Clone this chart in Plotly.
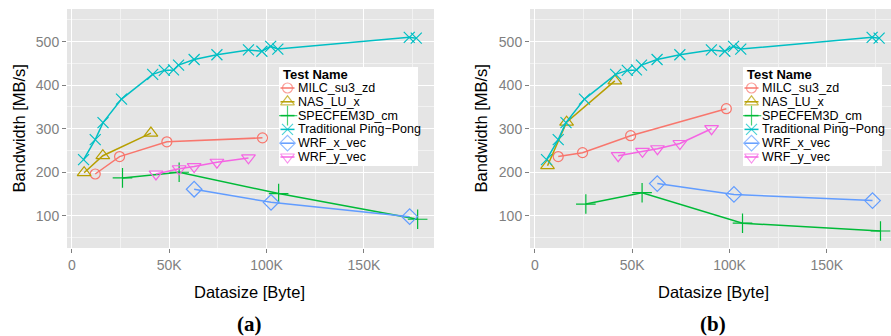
import plotly.graph_objects as go

# ---------------- data ----------------
series_names = ["MILC_su3_zd", "NAS_LU_x", "SPECFEM3D_cm", "Traditional Ping\u2212Pong", "WRF_x_vec", "WRF_y_vec"]
colors = ["#F8766D", "#B79F00", "#00BA38", "#00BFC4", "#619CFF", "#F564E3"]
symbols = ["circle-open", "triangle-up-open", "cross-thin-open", "x-thin-open", "diamond-open", "triangle-down-open"]
msizes = [10, 12, 14, 11, 12, 12]

pingpong_x = [6000, 12000, 16000, 25500, 41500, 47500, 52200, 54800, 62800, 74500, 90700, 97600, 102100, 105800, 173300, 176900]
pingpong_y = [229, 275, 314, 368, 425, 434, 435, 446, 459, 470, 481, 478, 489, 483, 510, 508]

# panel (a)
a_milc_x = [12000, 24500, 48800, 97900]
a_milc_y = [196, 236, 270, 279]
a_nas_x = [6300, 15900, 40600]
a_nas_y = [199, 238, 290]
a_spec_x = [26000, 55100, 106200, 177600]
a_spec_y = [187, 200, 151, 92]
a_wrfx_x = [62800, 102300, 173500]
a_wrfx_y = [161, 131, 98]
a_wrfy_x = [43200, 55100, 62800, 74500, 90700]
a_wrfy_y = [196, 208, 213, 223, 233]

# panel (b)
b_milc_x = [12000, 24500, 49200, 98400]
b_milc_y = [236, 245, 284, 346]
b_nas_x = [6500, 16300, 41100]
b_nas_y = [215, 315, 410]
b_spec_x = [26200, 55100, 106700, 177600]
b_spec_y = [127, 153, 83, 65]
b_wrfx_x = [62900, 102300, 173500]
b_wrfx_y = [174, 149, 135]
b_wrfy_x = [42800, 55300, 63000, 74500, 90800]
b_wrfy_y = [238, 248, 254, 266, 300]

x_tickvals = [0, 50000, 100000, 150000]
x_ticktext = ["0", "50K", "100K", "150K"]
y_tickvals = [100, 200, 300, 400, 500]
legend_title = "Test Name"

panel_a = [(a_milc_x, a_milc_y), (a_nas_x, a_nas_y), (a_spec_x, a_spec_y),
           (pingpong_x, pingpong_y), (a_wrfx_x, a_wrfx_y), (a_wrfy_x, a_wrfy_y)]
panel_b = [(b_milc_x, b_milc_y), (b_nas_x, b_nas_y), (b_spec_x, b_spec_y),
           (pingpong_x, pingpong_y), (b_wrfx_x, b_wrfx_y), (b_wrfy_x, b_wrfy_y)]

# ---------------- figure ----------------
fig = go.Figure()
W, H = 891, 336
FONT = "Liberation Sans, Arial, Helvetica"

for panel, xa, ya in [(panel_a, "x", "y"), (panel_b, "x2", "y2")]:
    for i, (xs, ys) in enumerate(panel):
        fig.add_trace(go.Scatter(
            x=xs, y=ys, mode="lines+markers", name=series_names[i],
            xaxis=xa, yaxis=ya, showlegend=False,
            line=dict(color=colors[i], width=1.5),
            marker=dict(symbol=symbols[i], size=msizes[i], color=colors[i],
                        line=dict(color=colors[i], width=1.2)),
        ))

# ---- legend boxes (drawn on their own small axes, pixel-sized units) ----
LEG_W, LEG_H = 139, 99
legend_left = [279, 743]
legend_top = 67
ann = []
for k, lx in enumerate(legend_left):
    xa, ya = "x%d" % (k + 3), "y%d" % (k + 3)
    # white frame
    fig.add_trace(go.Scatter(x=[0, LEG_W, LEG_W, 0, 0], y=[0, 0, LEG_H, LEG_H, 0],
                             mode="lines", fill="toself", fillcolor="white",
                             line=dict(width=0, color="white"), hoverinfo="skip",
                             xaxis=xa, yaxis=ya, showlegend=False))
    for i, nm in enumerate(series_names):
        yy = 21 + 13.8 * i
        fig.add_trace(go.Scatter(
            x=[1.5, 8.5, 15.5], y=[yy, yy, yy], mode="lines+markers",
            xaxis=xa, yaxis=ya, showlegend=False, hoverinfo="skip",
            line=dict(color=colors[i], width=1.5),
            marker=dict(symbol=symbols[i], size=[0, msizes[i], 0], color=colors[i],
                        line=dict(color=colors[i], width=1.2)),
        ))
        ann.append(dict(text=nm, x=17, y=yy, xref=xa, yref=ya, showarrow=False,
                        xanchor="left", yanchor="middle",
                        font=dict(family=FONT, size=12.5, color="black")))
    ann.append(dict(text="<b>" + legend_title + "</b>", x=2.2, y=7.5, xref=xa, yref=ya,
                    showarrow=False, xanchor="left", yanchor="middle",
                    font=dict(family=FONT, size=13, color="black")))

axis_common_x = dict(
    range=[-2500, 186000], tickvals=x_tickvals, ticktext=x_ticktext,
    showgrid=True, gridcolor="white", gridwidth=1.2, zeroline=False,
    ticks="outside", ticklen=4, tickcolor="#7F7F7F", tickwidth=1,
    tickfont=dict(family=FONT, size=14, color="#7F7F7F"),
    minor=dict(tickvals=[25000, 75000, 125000, 175000], showgrid=True,
               gridcolor="#F2F2F2", gridwidth=0.6, ticks=""),
    showline=False,
)
axis_common_y = dict(
    range=[26, 575], tickvals=y_tickvals,
    showgrid=True, gridcolor="white", gridwidth=1.2, zeroline=False,
    ticks="outside", ticklen=4, tickcolor="#7F7F7F", tickwidth=1,
    tickfont=dict(family=FONT, size=14, color="#7F7F7F"),
    minor=dict(tickvals=[50, 150, 250, 350, 450, 550], showgrid=True,
               gridcolor="#F2F2F2", gridwidth=0.6, ticks=""),
    showline=False,
)
leg_axis = dict(visible=False, showgrid=False, zeroline=False, fixedrange=True)

ydom = [(336 - 248) / H, (336 - 9) / H]
leg_ydom = [(336 - legend_top - LEG_H) / H, (336 - legend_top) / H]
fig.update_layout(
    width=W, height=H,
    margin=dict(l=0, r=0, t=0, b=0),
    paper_bgcolor="white", plot_bgcolor="#E5E5E5",
    font=dict(family=FONT, color="black"),
    xaxis=dict(axis_common_x, domain=[67 / W, 434 / W], anchor="y"),
    yaxis=dict(axis_common_y, domain=ydom, anchor="x"),
    xaxis2=dict(axis_common_x, domain=[530 / W, 1.0], anchor="y2", range=[-2500, 183000]),
    yaxis2=dict(axis_common_y, domain=ydom, anchor="x2"),
    xaxis3=dict(leg_axis, domain=[legend_left[0] / W, (legend_left[0] + LEG_W) / W], range=[0, LEG_W], anchor="y3"),
    yaxis3=dict(leg_axis, domain=leg_ydom, range=[LEG_H, 0], anchor="x3"),
    xaxis4=dict(leg_axis, domain=[legend_left[1] / W, (legend_left[1] + LEG_W) / W], range=[0, LEG_W], anchor="y4"),
    yaxis4=dict(leg_axis, domain=leg_ydom, range=[LEG_H, 0], anchor="x4"),
    showlegend=False,
)

for cx in [18, 480]:
    ann.append(dict(text="Bandwidth [MB/s]", x=cx / W, y=(336 - 128.5) / H, xref="paper", yref="paper",
                    showarrow=False, textangle=-90, font=dict(family=FONT, size=16.5, color="black"),
                    xanchor="center", yanchor="middle"))
for cx, lab in [(249, "(a)"), (713, "(b)")]:
    ann.append(dict(text="Datasize [Byte]", x=cx / W, y=(336 - 292) / H, xref="paper", yref="paper",
                    showarrow=False, font=dict(family=FONT, size=16.5, color="black"),
                    xanchor="center", yanchor="middle"))
    ann.append(dict(text="<b>" + lab + "</b>", x=cx / W, y=(336 - 324) / H, xref="paper", yref="paper",
                    showarrow=False, font=dict(size=21, family="Liberation Serif, Times New Roman", color="black"),
                    xanchor="center", yanchor="middle"))
fig.update_layout(annotations=ann)

fig.write_html("out.html", config={"displayModeBar": False},
               post_script="document.body.style.margin='0px';document.body.style.overflow='hidden';")
